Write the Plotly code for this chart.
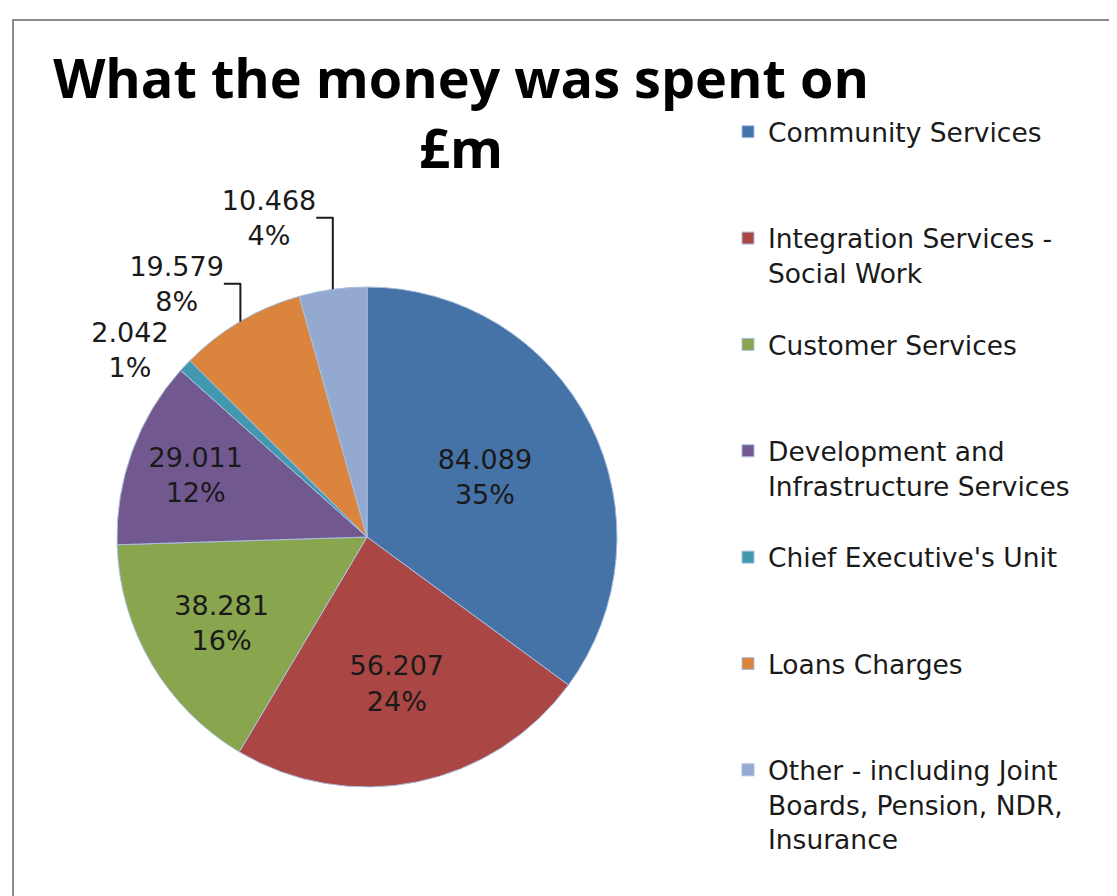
import plotly.graph_objects as go

# Ausgaben in £m
categories = [
    "Community Services",
    "Integration Services -<br>Social Work",
    "Customer Services",
    "Development and<br>Infrastructure Services",
    "Chief Executive's Unit",
    "Loans Charges",
    "Other - including Joint<br>Boards, Pension, NDR,<br>Insurance",
]
values = [84.089, 56.207, 38.281, 29.011, 2.042, 19.579, 10.468]
percent_labels = ["35%", "24%", "16%", "12%", "1%", "8%", "4%"]
colors = ["#4572A7", "#AA4643", "#89A54E", "#71588F", "#4198AF", "#DB843D", "#93A9CF"]
text_pos = ["inside", "inside", "inside", "inside", "outside", "outside", "outside"]

# Legendeneinträge auf gleiche Höhe (3 Zeilen) auffüllen
legend_labels = []
for c in categories:
    n_lines = c.count("<br>") + 1
    legend_labels.append(c + "<br> " * (3 - n_lines))

W, H = 1117, 896
cx, cy, r = 359, 529, 250
FONT = "DejaVu Sans"

fig = go.Figure()
fig.add_trace(go.Pie(
    labels=legend_labels,
    values=values,
    text=percent_labels,
    sort=False,
    direction="clockwise",
    rotation=0,
    marker=dict(colors=colors, line=dict(color="#a9c0e0", width=1)),
    texttemplate="%{value:.3f}<br>%{text}",
    textposition=text_pos,
    insidetextorientation="horizontal",
    textfont=dict(size=27, color="#1a1a1a", family=FONT),
    hovertemplate="%{label}: %{value:.3f}<extra></extra>",
    domain=dict(x=[(cx - r) / W, (cx + r) / W], y=[(H - cy - r) / H, (H - cy + r) / H]),
))

fig.update_layout(
    width=W,
    height=H,
    paper_bgcolor="white",
    plot_bgcolor="white",
    margin=dict(l=0, r=0, t=0, b=0),
    title=dict(
        text="<b>What the money was spent on<br>£m</b>",
        font=dict(size=54, color="black", family="Open Sans"),
        x=453 / W, xanchor="center",
        y=1 - 90 / H, yanchor="top",
    ),
    legend=dict(
        x=720 / W, xanchor="left",
        y=1 - 100 / H, yanchor="top",
        valign="top",
        font=dict(size=26.5, color="#1a1a1a", family=FONT),
        itemwidth=30,
    ),
    shapes=[dict(
        type="rect", xref="paper", yref="paper",
        x0=5 / W, x1=1.05, y0=-0.05, y1=1 - 12 / H,
        line=dict(color="#8c8c8c", width=2),
    )],
)

fig.write_html("out.html")
